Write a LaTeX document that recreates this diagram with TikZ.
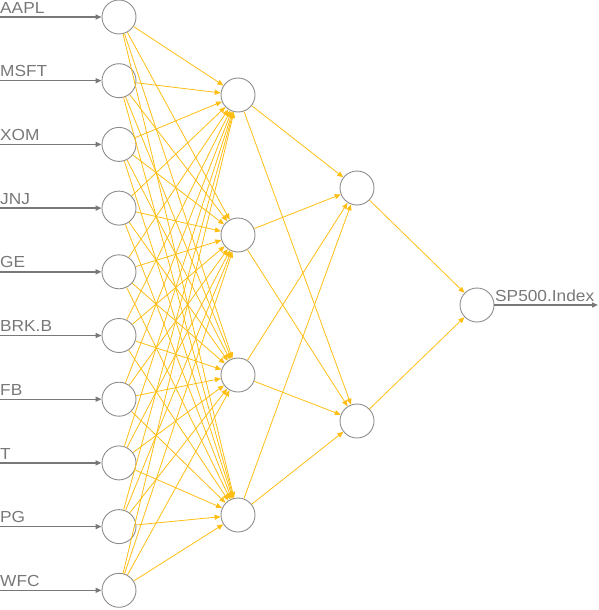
\documentclass[tikz,border=0pt]{standalone}
\usepackage{fontspec}
\setmainfont{Liberation Sans}[FakeStretch=1.08]
\usetikzlibrary{arrows.meta}
\definecolor{nodegray}{RGB}{140,140,140}
\definecolor{linegray}{RGB}{120,120,120}
\definecolor{edgey}{RGB}{255,190,20}
\begin{document}
\begin{tikzpicture}[x=1pt,y=-1pt,
  neuron/.style={circle,draw=nodegray,line width=0.9pt,minimum size=34pt,inner sep=0pt},
  inarrow/.style={draw=linegray,line width=1.4pt,-{Triangle[length=6pt,width=5pt]}},
  edge/.style={draw=edgey,line width=0.8pt,-{Triangle[length=6pt,width=5pt]}},
  lab/.style={font=\fontsize{16}{16}\selectfont,text=linegray,inner sep=0pt,anchor=south west}]
\useasboundingbox (0,0) rectangle (598,610);
% input nodes
\foreach \n/\t [count=\i from 0] in {i1/AAPL,i2/MSFT,i3/XOM,i4/JNJ,i5/GE,i6/BRK.B,i7/FB,i8/T,i9/PG,i10/WFC}{
  \node[neuron] (\n) at (119,{17+63.7*\i}) {};
  \coordinate (s\n) at (0,{17+63.7*\i});
  \draw[inarrow] (s\n) -- (\n);
  \node[lab] (l\n) at (0,{13.5+63.7*\i}) {\t};
}
% hidden layer 1
\foreach \j [count=\k from 0] in {1,2,3,4}{
  \node[neuron] (h\j) at (238,{95+140*\k}) {};
}
% hidden layer 2
\node[neuron] (g1) at (357,188) {};
\node[neuron] (g2) at (357,421) {};
% output
\node[neuron] (o) at (477,305) {};
\coordinate (oe) at (598,305);
\draw[inarrow] (o) -- (oe);
\node[lab] (lo) at (495,301.5) {SP500.Index};
% edges
\foreach \i in {1,...,10}{
  \foreach \j in {1,2,3,4}{
    \draw[edge] (i\i) -- (h\j);
  }
}
\foreach \j in {1,2,3,4}{
  \draw[edge] (h\j) -- (g1);
  \draw[edge] (h\j) -- (g2);
}
\draw[edge] (g1) -- (o);
\draw[edge] (g2) -- (o);
\end{tikzpicture}
\end{document}
